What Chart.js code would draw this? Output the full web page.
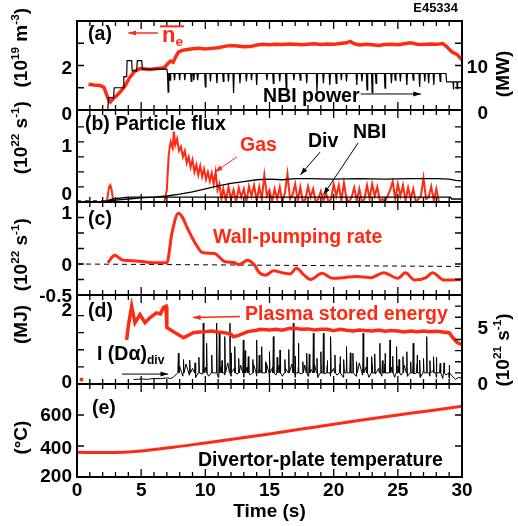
<!DOCTYPE html>
<html>
<head>
<meta charset="utf-8">
<script src="https://cdn.jsdelivr.net/npm/chart.js@4/dist/chart.umd.min.js"></script>
<style>
  html, body { margin: 0; padding: 0; background: #fff; }
  #wrap { position: relative; width: 518px; height: 526px; overflow: hidden; }
</style>
</head>
<body>
<div id="wrap"></div>
<script>
const T_MAX = 30;
const RED = '#ff2a14';
const FONT = '"Liberation Sans", Arial, Helvetica, sans-serif';

// ---- (a) line-averaged density (1e19 m^-3) ----
const NE_T = [0.9,1.3,1.8,2.1,2.3,2.5,2.6,2.8,3.1,3.35,3.7,4.1,4.5,4.9,5.3,5.7,6.1,6.5,6.8,7.1,7.3,7.5,7.7,7.9,8.2,8.6,9.0,9.5,10,10.5,11,11.5,12,12.5,13,13.5,14,14.5,15,15.5,16,16.5,17,17.5,18,18.5,19,19.5,20,20.5,21,21.3,21.6,22,22.5,23,23.5,24,24.5,25,25.5,26,26.5,27,27.5,28,28.5,28.8,29.2,29.6,30];
const NE = [1.16,1.12,1.1,1.02,0.7,0.42,0.36,0.5,0.65,0.8,1.05,1.45,1.75,1.86,1.84,1.82,1.85,1.88,1.9,2.1,2.2,2.15,2.4,2.6,2.68,2.72,2.75,2.78,2.74,2.77,2.8,2.86,2.9,2.88,2.84,2.85,2.92,2.95,2.93,2.96,2.94,2.97,2.95,2.93,2.96,2.98,2.94,2.97,2.95,2.99,3.02,3.08,2.98,2.92,2.95,2.93,2.9,2.94,2.96,2.93,2.98,3.02,2.96,2.94,2.97,2.95,2.99,2.85,2.62,2.5,2.25];

// NBI power (MW): ramp-up steps, flat top with short drop-outs, reduced tail
const NBI_T = [2.4,2.45,2.85,2.9,3.6,3.65,3.87,3.9,4.26,4.3,4.65,4.7,5.04,5.1,7.0];
const NBI_P = [0,2.8,2.8,5.0,5.0,7.5,7.5,11.1,11.1,8.8,8.8,11.1,11.1,9.2,9.2];
const NBI_FLAT = 8.2;
const NBI_DIP_T = [7.1,7.25,7.6,8.0,8.4,8.9,9.1,9.4,10.0,10.4,10.9,11.4,11.8,12.2,12.7,13.2,13.6,14.0,14.8,15.3,15.8,16.3,16.9,17.4,17.9,18.7,19.2,19.7,20.2,20.6,21.0,21.8,22.2,22.6,23.0,23.3,24.0,24.5,24.8,25.2,25.7,26.2,26.7,27.1,27.4,27.8,28.3];
const NBI_DIP_P = [4.0,6.7,6.7,6.7,6.7,6.4,6.7,6.7,5.2,6.4,6.0,6.4,6.4,3.8,6.0,6.4,6.7,5.6,6.7,6.0,6.4,4.9,6.7,6.7,6.0,4.1,6.0,5.6,6.0,6.7,6.4,5.6,6.4,4.5,3.9,6.0,4.9,6.0,6.7,6.4,5.6,6.7,5.2,6.4,6.0,5.6,6.4];
const NBI_TAIL_T = [28.75,28.8,29.3,29.33,29.36,29.6,29.63,29.66,30];
const NBI_TAIL_P = [8.2,6.3,6.3,4.6,6.3,6.3,4.8,6.3,6.3];

// ---- (b) particle flux (1e22 s^-1) ----
const GAS_T = [0,2.3,2.4,2.5,2.6,2.7,2.8,2.9,6.8,7.0,7.15,7.3,7.45,7.55,7.65,7.8,7.95,8.1,8.25,8.4,8.55,8.7,8.85,9.0,9.15,9.3,9.45,9.6,9.75,9.9,10.05,10.2,10.35,10.5,10.65,10.8,10.95,11.1,11.25];
const GAS = [0,0,0.1,0.25,0.28,0.2,0.05,0,0,0.2,0.8,1.0,0.9,1.17,0.95,1.05,0.85,0.92,0.75,0.85,0.65,0.75,0.58,0.7,0.5,0.62,0.45,0.6,0.42,0.55,0.38,0.5,0.35,0.48,0.3,0.5,0.2,0.3,0.05];
const GAS_N_T0 = 11.4, GAS_N_DT = 0.2; // puffing pulses sampled every 0.2 s
const GAS_N = [0.22,0.02,0.25,0.05,0.2,0.0,0.24,0.08,0.22,0.0,
  0.26,0.1,0.28,0.02,0.25,0.05,0.45,0.1,0.2,0.0,
  0.22,0.05,0.25,0.0,0.15,0.47,0.05,0.12,0.3,0.02,
  0.25,0.0,0.05,0.26,0.08,0.22,0.0,0.05,0.18,0.02,
  0.15,0.0,0.05,0.3,0.1,0.28,0.02,0.32,0.05,0.0,
  0.08,0.24,0.02,0.22,0.0,0.05,0.28,0.05,0.3,0.1,
  0.25,0.02,0.05,0.0,0.1,0.2,0.34,0.05,0.3,0.1,
  0.28,0.02,0.24,0.05,0.22,0.0,0.05,0.1,0.4,0.05,
  0.08,0.26,0.02,0.22,0.0];
const DIV_T = [2,3,4,5,6,7,8,9,10,11,12,13,14,15,16,17,18,20,22,24,26,28,29,29.5,30];
const DIV = [0.01,0.03,0.05,0.07,0.08,0.1,0.13,0.17,0.22,0.27,0.31,0.34,0.37,0.38,0.37,0.39,0.39,0.38,0.39,0.38,0.39,0.39,0.38,0.36,0.35];
const NBIF_T = [2.3,2.8,4,29.1,29.2,30];
const NBIF = [0.02,0.05,0.08,0.08,0.05,0.05];

// ---- (c) wall-pumping rate (1e22 s^-1) ----
const WALL_T = [2.4,2.95,3.6,4.6,5.9,7.0,7.4,7.9,8.2,8.6,9.2,9.8,10.7,11.5,12.3,12.6,13.3,13.8,14.2,14.7,15.3,16.0,16.6,17.1,17.7,18.2,19.1,19.9,20.8,21.8,22.9,23.9,25.0,25.6,26.3,27.2,27.7,28.6,30];
const WALL = [0.02,0.14,0.06,0.05,0.02,0.02,0.5,0.82,0.76,0.58,0.34,0.18,0.17,0.04,0.02,-0.01,0.06,-0.01,-0.14,-0.18,-0.11,-0.14,-0.16,-0.07,-0.18,-0.25,-0.15,-0.23,-0.22,-0.2,-0.22,-0.14,-0.23,-0.14,-0.26,-0.22,-0.14,-0.26,-0.25];

// ---- (d) stored energy (MJ) and divertor D-alpha (1e21 s^-1) ----
const WP_T = [3.87,4.0,4.26,4.52,4.91,5.3,5.7,6.2,6.5,6.73,6.94,7.0,7.5,8.3,9.06,9.5,10,10.5,11,11.5,12,12.2,12.6,13.3,14,14.3,15,15.5,16,16.5,17,17.5,18,18.5,19,19.5,20,20.5,21,21.5,22,22.5,23,23.5,24,24.5,25,25.5,26,26.5,27,27.5,28,28.5,29,29.3,29.6,30];
const WP = [1.29,1.7,2.27,1.79,2.03,1.79,1.94,2.08,2.05,2.23,2.27,1.65,1.53,1.35,1.5,1.52,1.53,1.55,1.52,1.5,1.45,1.38,1.42,1.53,1.57,1.6,1.58,1.6,1.57,1.62,1.63,1.6,1.61,1.58,1.6,1.6,1.56,1.6,1.57,1.55,1.58,1.56,1.55,1.58,1.54,1.56,1.55,1.52,1.55,1.53,1.55,1.53,1.54,1.52,1.5,1.35,1.22,1.15];
const DA_PRE_T = [4.4,5.0,5.5,6.0,6.5,7.0,7.3,7.5];
const DA_PRE = [0.4,0.45,0.42,0.5,0.48,0.55,0.5,0.6];
const DA_T0 = 7.75, DA_DT = 0.25; // background level sampled every 0.25 s
const DA_BASE = [0.9,1.6,0.7,1.8,0.8,1.4,0.6,1.7,0.9,1.5,
  0.7,1.8,1.0,0.6,1.6,0.8,1.9,0.7,1.4,0.9,
  1.7,0.6,1.5,0.8,1.8,0.7,1.3,1.0,1.9,0.6,
  1.5,0.8,1.7,0.7,1.4,1.0,1.8,0.6,1.5,0.9,
  1.7,0.7,1.3,1.8,0.6,1.5,0.9,1.7,0.7,1.4,
  0.8,1.8,0.6,1.6,1.0,1.4,0.7,1.9,0.8,1.5,
  0.6,1.7,0.9,1.4,0.7,1.8,1.0,1.5,0.6,1.6,
  0.8,1.7,0.7,1.4,0.9,1.8,0.6,1.3,1.5,0.7,
  1.2,0.6,1.0,0.5,0.8,0.5,0.7,0.4,0.6];
// ELM-like bursts: tall ones and medium ones
const DA_SPK_T = [7.9,8.8,9.84,10.1,10.88,11.09,11.53,11.92,12.31,12.96,13.35,14.0,14.39,15.3,15.82,16.86,17.25,17.9,18.42,19.2,19.77,20.5,21.0,21.5,22.3,22.96,23.6,24.0,24.39,24.9,25.4,26.2,26.7,27.25,27.8,28.3];
const DA_SPK = [2.76,2.16,5.47,3.66,5.47,4.56,4.26,5.47,3.36,3.96,2.46,3.96,3.36,4.26,3.06,5.47,3.66,2.76,4.56,4.56,4.26,2.46,3.36,2.76,4.56,2.46,3.66,2.76,3.96,3.36,2.46,3.66,2.16,4.26,2.46,1.86];
const DA_MID_T = [8.3,9.2,9.5,10.5,11.3,12.0,12.6,13.1,13.7,14.2,14.7,15.0,15.6,16.2,16.5,17.0,17.6,18.1,18.7,19.0,19.5,20.1,20.8,21.3,21.8,22.6,23.2,23.8,24.6,25.1,25.7,26.0,26.5,27.0,27.5,28.0,28.6,29.0];
const DA_MID = [2.2,1.9,2.4,2.6,2.1,2.8,2.3,3.0,2.2,2.6,2.0,2.9,2.4,2.2,3.1,2.5,2.0,2.7,2.3,2.9,2.1,2.6,2.2,2.8,2.0,2.4,2.7,2.1,2.5,2.2,2.9,2.0,2.6,2.3,2.1,2.4,1.9,1.7];
const DA_SPK_FOOT = 1.0;

// ---- (e) divertor-plate temperature (deg C) ----
const TD_T = [0,2.5,5,7.5,10,12.5,15,17.5,20,22.5,25,27.5,30];
const TD = [359,358,368,392,420,448,478,509,541,571,600,628,657];

// ---- helpers ----
const xy = (ts, vs) => ts.map((t, i) => ({ x: t, y: vs[i] }));
const sampled = (t0, dt, vs) => vs.map((v, i) => ({ x: +(t0 + i * dt).toFixed(3), y: v }));
function spikes(foot, ts, ps, w) {
  const out = [];
  ts.forEach((t, i) => out.push({ x: t - w, y: foot }, { x: t, y: ps[i] }, { x: t + w, y: foot }));
  return out;
}
const byX = (a, b) => a.x - b.x;

const nbiData = xy(NBI_T, NBI_P).concat(spikes(NBI_FLAT, NBI_DIP_T, NBI_DIP_P, 0.05), xy(NBI_TAIL_T, NBI_TAIL_P));
const gasData = xy(GAS_T, GAS).concat(sampled(GAS_N_T0, GAS_N_DT, GAS_N));
const daData = xy(DA_PRE_T, DA_PRE)
  .concat(sampled(DA_T0, DA_DT, DA_BASE)
    .concat(spikes(DA_SPK_FOOT, DA_SPK_T, DA_SPK, 0.04), spikes(DA_SPK_FOOT, DA_MID_T, DA_MID, 0.04))
    .sort(byX))
  .concat([{ x: 30, y: 0.5 }]);

function rich(ctx, parts, x, y, size, color, align, rot, bar) {
  ctx.save();
  ctx.translate(x, y);
  if (rot) ctx.rotate(rot);
  ctx.fillStyle = color; ctx.textBaseline = 'middle'; ctx.textAlign = 'left';
  const f = (s) => 'bold ' + s + 'px ' + FONT;
  let w = 0;
  parts.forEach((p) => { ctx.font = f(p[1] ? size * 0.62 : size); w += ctx.measureText(p[0]).width; });
  let cx = align === 'center' ? -w / 2 : align === 'right' ? -w : 0;
  const x0 = cx;
  parts.forEach((p) => {
    ctx.font = f(p[1] ? size * 0.62 : size);
    const dy = p[1] === 1 ? -size * 0.32 : p[1] === -1 ? size * 0.3 : 0;
    ctx.fillText(p[0], cx, dy);
    cx += ctx.measureText(p[0]).width;
  });
  if (bar) ctx.fillRect(x0 - 2, -size * 0.47, w + 3, 2);
  ctx.restore();
}

function arrow(ctx, x1, y1, x2, y2, col, lw) {
  const ang = Math.atan2(y2 - y1, x2 - x1), L = 8, s = 0.32;
  ctx.save();
  ctx.strokeStyle = col; ctx.fillStyle = col; ctx.lineWidth = lw;
  ctx.beginPath(); ctx.moveTo(x1, y1); ctx.lineTo(x2, y2); ctx.stroke();
  ctx.beginPath(); ctx.moveTo(x2, y2);
  ctx.lineTo(x2 - L * Math.cos(ang - s), y2 - L * Math.sin(ang - s));
  ctx.lineTo(x2 - L * Math.cos(ang + s), y2 - L * Math.sin(ang + s));
  ctx.closePath(); ctx.fill();
  ctx.restore();
}

// per-panel decoration: tick labels [value, text, dy], unit titles, texts and arrows in data units
const UNIT22 = [['(10', 0], ['22', 1], [' s', 0], ['-1', 1], [')', 0]];
const DECO = {
  pa: {
    left: [[2, '2', 3.5], [0, '0', 5]], right: [[10, '10', 2], [0, '0', 4]],
    ltitle: { v: 2.8, parts: [['(10', 0], ['19', 1], [' m', 0], ['-3', 1], [')', 0]] },
    rtitle: { v: 8.1, parts: [['(MW)', 0]] },
    texts: [
      { t: 0.86, v: 3.37, parts: [['(a)', 0]] },
      { t: 6.62, v: 3.34, parts: [['n', 0], ['e', -1]], color: RED, size: 22, bar: true },
      { t: 14.5, v: 0.58, parts: [['NBI power', 0]] },
      { t: 26.2, v: 4.58, parts: [['E45334', 0]], size: 13 }
    ],
    arrows: [[6.3, 3.46, 4.0, 3.46, RED, 1.5], [22.1, 0.72, 26.8, 0.72, '#000', 1]]
  },
  pb: {
    left: [[1, '1', 5], [0, '0', -7]],
    ltitle: { v: 1.07, parts: UNIT22 },
    texts: [
      { t: 0.62, v: 1.28, parts: [['(b) Particle flux', 0]] },
      { t: 12.7, v: 0.93, parts: [['Gas', 0]], color: RED },
      { t: 18.0, v: 1.0, parts: [['Div', 0]] },
      { t: 21.5, v: 1.15, parts: [['NBI', 0]] }
    ],
    arrows: [[12.47, 0.75, 10.75, 0.5, RED, 1], [18.94, 0.83, 17.4, 0.45, '#000', 1], [21.9, 0.98, 19.2, 0.12, '#000', 1]]
  },
  pc: {
    left: [[1, '1', 12], [0, '0', 2], [-0.5, '-0.5', 2]],
    ltitle: { v: 0.15, parts: UNIT22 },
    texts: [
      { t: 0.86, v: 0.71, parts: [['(c)', 0]] },
      { t: 10.6, v: 0.42, parts: [['Wall-pumping rate', 0]], color: RED }
    ],
    arrows: []
  },
  pd: {
    left: [[2, '2', -5], [0, '0', -1]], right: [[5, '5', 0], [0, '0', 1]],
    ltitle: { v: 1.74, parts: [['(MJ)', 0]] },
    rtitle: { v: 3.06, parts: [['(10', 0], ['21', 1], [' s', 0], ['-1', 1], [')', 0]] },
    texts: [
      { t: 0.86, v: 2.12, parts: [['(d)', 0]] },
      { t: 13.1, v: 2.03, parts: [['Plasma stored energy', 0]], color: RED },
      { t: 1.56, v: 0.85, parts: [['I (D\u03b1)', 0], ['div', -1]] }
    ],
    arrows: [[12.7, 1.97, 9.04, 1.94, RED, 1.5], [3.5, 0.29, 7.1, 0.29, '#000', 1]]
  },
  pe: {
    left: [[600, '600', 0.5], [400, '400', 2.5], [200, '200', 0]],
    ltitle: { v: 454, parts: [['(\u00b0C)', 0]] },
    texts: [
      { t: 1.17, v: 644, parts: [['(e)', 0]] },
      { t: 9.43, v: 308, parts: [['Divertor-plate temperature', 0]] }
    ],
    arrows: []
  }
};

const deco = {
  id: 'deco',
  afterDatasetsDraw(chart) {
    const d = DECO[chart.canvas.id];
    if (!d) return;
    const ctx = chart.ctx, a = chart.chartArea, xs = chart.scales.x, yl = chart.scales.y, yr = chart.scales.y2;
    ctx.save();
    ctx.strokeStyle = '#000'; ctx.lineWidth = 1.3;
    ctx.beginPath();
    for (let t = 0; t <= T_MAX; t++) {
      const x = xs.getPixelForValue(t), len = t % 5 ? 5 : 8;
      ctx.moveTo(x, a.top); ctx.lineTo(x, a.top + len);
      ctx.moveTo(x, a.bottom); ctx.lineTo(x, a.bottom - len);
    }
    yl.ticks.forEach((tk) => {
      const y = yl.getPixelForValue(tk.value);
      ctx.moveTo(a.left, y); ctx.lineTo(a.left + 7, y);
      if (!yr) { ctx.moveTo(a.right, y); ctx.lineTo(a.right - 7, y); }
    });
    if (yr) yr.ticks.forEach((tk) => {
      const y = yr.getPixelForValue(tk.value);
      ctx.moveTo(a.right, y); ctx.lineTo(a.right - 7, y);
    });
    ctx.stroke();
    ctx.lineWidth = 2;
    ctx.strokeRect(a.left, a.top, a.right - a.left, a.bottom - a.top);

    d.left.forEach(([v, s, dy]) => rich(ctx, [[s, 0]], 72, yl.getPixelForValue(v) + dy, 19, '#000', 'right'));
    (d.right || []).forEach(([v, s, dy]) => rich(ctx, [[s, 0]], 488, yr.getPixelForValue(v) + dy, 19, '#000', 'right'));
    rich(ctx, d.ltitle.parts, 22, yl.getPixelForValue(d.ltitle.v), 19, '#000', 'center', -Math.PI / 2);
    if (d.rtitle) rich(ctx, d.rtitle.parts, 504, yr.getPixelForValue(d.rtitle.v), 19, '#000', 'center', -Math.PI / 2);
    d.texts.forEach((tx) => rich(ctx, tx.parts, xs.getPixelForValue(tx.t), yl.getPixelForValue(tx.v),
      tx.size || 19.5, tx.color || '#000', 'left', 0, tx.bar));
    d.arrows.forEach((ar) => arrow(ctx, xs.getPixelForValue(ar[0]), yl.getPixelForValue(ar[1]),
      xs.getPixelForValue(ar[2]), yl.getPixelForValue(ar[3]), ar[4], ar[5]));
    ctx.restore();
  }
};
Chart.register(deco);

function line(data, color, width, extra) {
  return Object.assign({ data, borderColor: color, borderWidth: width, pointRadius: 0, fill: false, tension: 0 }, extra || {});
}

function panel(id, plotTop, plotBot, padT, padB, cfg) {
  const cv = document.createElement('canvas');
  cv.id = id; cv.width = 518; cv.height = plotBot - plotTop + padT + padB;
  cv.style.cssText = 'position:absolute;left:0;top:' + (plotTop - padT) + 'px';
  document.getElementById('wrap').appendChild(cv);
  const hideAxis = { grid: { display: false }, border: { display: false } };
  const scales = {
    x: {
      type: 'linear', min: 0, max: T_MAX, display: !!cfg.xAxis,
      grid: { display: false, drawTicks: false }, border: { display: false },
      ticks: { stepSize: 5, autoSkip: false, maxRotation: 0, padding: 2, color: '#000',
        font: { family: FONT, size: 19, weight: 'bold' } },
      title: { display: !!cfg.xAxis, text: 'Time (s)', color: '#000', padding: { top: 0, bottom: 3 },
        font: { family: FONT, size: 19, weight: 'bold' } },
      afterFit: (s) => { s.height = cfg.xAxis ? padB : 0; }
    },
    y: Object.assign({
      type: 'linear', position: 'left', min: cfg.y[0], max: cfg.y[1],
      ticks: { display: false, stepSize: cfg.y[2] },
      afterFit: (s) => { s.width = 77; }
    }, hideAxis)
  };
  if (cfg.y2) {
    scales.y2 = Object.assign({
      type: 'linear', position: 'right', min: cfg.y2[0], max: cfg.y2[1],
      ticks: { display: false, stepSize: cfg.y2[2] },
      afterFit: (s) => { s.width = 56; }
    }, hideAxis);
  }
  return new Chart(cv, {
    type: 'line',
    data: { datasets: cfg.datasets },
    options: {
      responsive: false, animation: false, events: [],
      layout: { autoPadding: false, padding: { left: 0, right: cfg.y2 ? 0 : 56, top: padT, bottom: cfg.xAxis ? 0 : padB } },
      plugins: { legend: { display: false }, tooltip: { enabled: false } },
      scales
    }
  });
}

panel('pa', 21, 110, 21, 20, {
  y: [0, 4, 1], y2: [0, 20, 5],
  datasets: [
    line(nbiData, '#000', 1.2, { yAxisID: 'y2' }),
    line(xy(NE_T, NE), RED, 3.5, { yAxisID: 'y' })
  ]
});

panel('pb', 110, 202, 20, 20, {
  y: [0, 1.53, 0.25],
  datasets: [
    line(xy(DIV_T, DIV), '#000', 1.3),
    line(xy(NBIF_T, NBIF), '#000', 1.3),
    line([{ x: 0, y: 0.02 }, { x: 2.3, y: 0.02 }], '#000', 1, { borderDash: [4, 4] }),
    line(gasData, RED, 2)
  ]
});

panel('pc', 202, 295, 20, 20, {
  y: [-0.5, 1.0, 0.25],
  datasets: [
    line(xy(WALL_T, WALL), RED, 3, { cubicInterpolationMode: 'monotone' }),
    line([{ x: 0, y: 0 }, { x: 30, y: -0.04 }], '#000', 1, { borderDash: [5, 4] })
  ]
});

panel('pd', 295, 384, 20, 20, {
  y: [0, 2.6, 0.5], y2: [0, 8, 1],
  datasets: [
    line(xy(WP_T, WP), RED, 3.5, { yAxisID: 'y' }),
    line(daData, '#000', 1, { yAxisID: 'y2' }),
    line([{ x: 0.35, y: 0.4 }], RED, 0, { yAxisID: 'y2', showLine: false, pointRadius: 2.5, pointStyle: 'rect', pointBackgroundColor: RED, pointBorderWidth: 0 })
  ]
});

panel('pe', 384, 477, 20, 49, {
  y: [200, 800, 200], xAxis: true,
  datasets: [
    line(xy(TD_T, TD), RED, 3, { cubicInterpolationMode: 'monotone' })
  ]
});
</script>
</body>
</html>
